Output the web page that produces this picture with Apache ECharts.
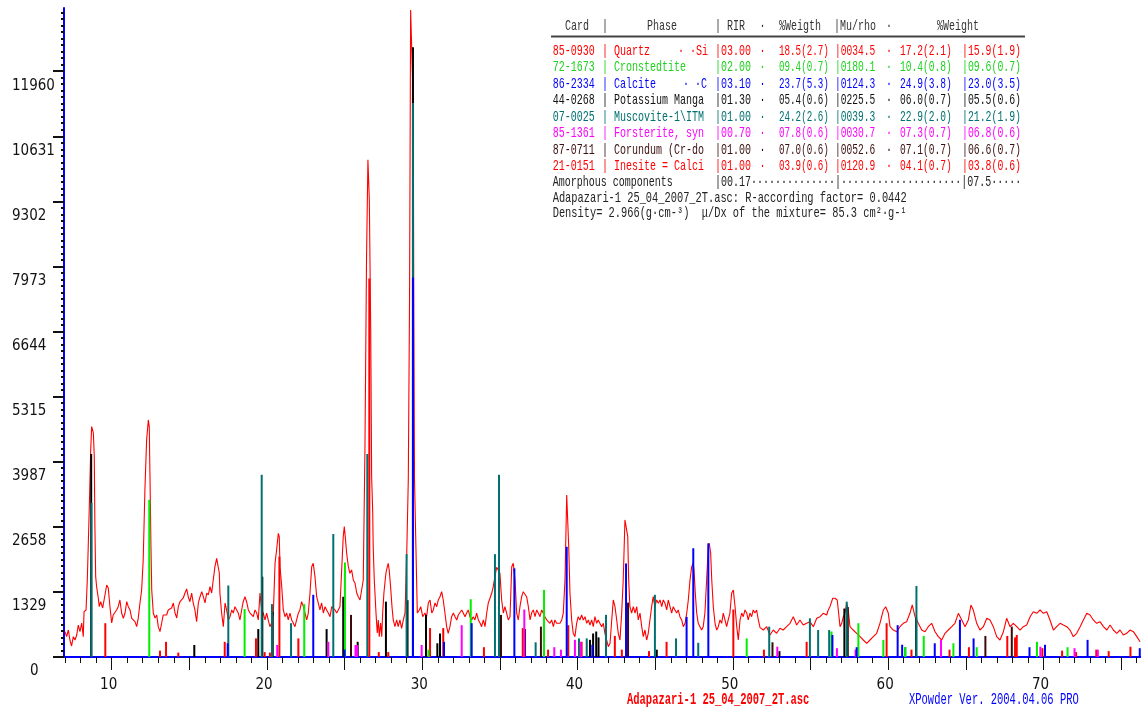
<!DOCTYPE html>
<html>
<head>
<meta charset="utf-8">
<script src="https://cdn.jsdelivr.net/npm/echarts@6/dist/echarts.min.js"></script>
<style>
html,body{margin:0;padding:0;background:#ffffff;}
#chart{width:1141px;height:711px;}
</style>
</head>
<body>
<div id="chart"></div>
<script>
// ---------- observed pattern (2-theta in degrees, counts) ----------
const twoTheta = [6.99,7.10,7.21,7.31,7.42,7.53,7.64,7.75,7.85,7.96,8.07,8.17,8.22,8.35,8.43,8.49,8.56,8.65,8.71,8.82,8.88,8.92,8.97,9.03,9.14,9.20,9.29,9.42,9.50,9.59,9.68,9.78,9.89,10.00,10.10,10.21,10.32,10.42,10.53,10.64,10.75,10.86,10.97,11.07,11.18,11.29,11.39,11.50,11.61,11.71,11.82,11.93,12.03,12.14,12.25,12.36,12.42,12.47,12.53,12.58,12.68,12.79,12.90,13.00,13.11,13.22,13.32,13.43,13.54,13.64,13.75,13.86,13.97,14.08,14.19,14.29,14.40,14.51,14.61,14.72,14.83,14.93,15.04,15.15,15.25,15.36,15.47,15.58,15.69,15.80,15.90,16.01,16.12,16.22,16.33,16.44,16.54,16.65,16.76,16.93,16.97,17.08,17.19,17.30,17.40,17.51,17.62,17.73,17.83,17.94,18.05,18.15,18.26,18.37,18.47,18.58,18.69,18.80,18.91,19.02,19.12,19.23,19.34,19.44,19.55,19.66,19.76,19.87,19.98,20.08,20.19,20.30,20.41,20.52,20.62,20.73,20.79,20.84,20.95,21.05,21.16,21.27,21.37,21.48,21.59,21.69,21.80,21.91,22.02,22.12,22.23,22.34,22.45,22.56,22.66,22.77,22.88,22.98,23.09,23.20,23.30,23.41,23.52,23.63,23.74,23.84,23.95,24.06,24.17,24.27,24.38,24.49,24.59,24.70,24.81,24.91,24.98,25.04,25.13,25.24,25.34,25.45,25.56,25.67,25.78,25.88,25.99,26.10,26.20,26.31,26.41,26.50,26.59,26.68,26.74,26.81,26.84,26.91,27.02,27.10,27.17,27.23,27.32,27.39,27.45,27.53,27.66,27.75,27.81,27.87,27.96,28.05,28.13,28.24,28.35,28.45,28.56,28.67,28.78,28.89,29.00,29.10,29.18,29.25,29.36,29.42,29.45,29.50,29.59,29.68,29.81,29.90,30.03,30.17,30.28,30.39,30.50,30.61,30.71,30.82,30.93,31.03,31.14,31.25,31.35,31.46,31.57,31.67,31.78,31.89,32.00,32.11,32.22,32.32,32.43,32.54,32.64,32.75,32.86,32.96,33.07,33.18,33.28,33.39,33.50,33.61,33.72,33.82,33.93,34.04,34.15,34.25,34.36,34.47,34.57,34.68,34.79,34.89,35.00,35.11,35.22,35.32,35.43,35.54,35.65,35.76,35.86,35.97,36.08,36.18,36.29,36.40,36.50,36.61,36.72,36.83,36.94,37.04,37.15,37.26,37.37,37.47,37.58,37.69,37.79,37.90,38.01,38.11,38.22,38.33,38.44,38.54,38.65,38.76,38.87,38.98,39.08,39.19,39.30,39.36,39.43,39.51,39.62,39.72,39.83,39.94,40.04,40.15,40.26,40.37,40.48,40.59,40.69,40.80,40.91,41.01,41.12,41.23,41.33,41.44,41.55,41.66,41.76,41.87,41.98,42.09,42.20,42.30,42.41,42.52,42.62,42.73,42.84,42.94,43.05,43.16,43.23,43.29,43.37,43.48,43.59,43.70,43.81,43.91,44.02,44.13,44.23,44.34,44.45,44.55,44.66,44.77,44.87,44.98,45.09,45.20,45.31,45.42,45.52,45.63,45.74,45.84,45.95,46.06,46.16,46.27,46.38,46.48,46.59,46.70,46.81,46.92,47.03,47.13,47.24,47.35,47.45,47.51,47.58,47.67,47.77,47.88,47.99,48.09,48.20,48.31,48.42,48.48,48.57,48.64,48.74,48.85,48.96,49.06,49.17,49.28,49.38,49.49,49.60,49.70,49.81,49.92,50.03,50.14,50.25,50.35,50.46,50.57,50.67,50.78,50.89,50.99,51.10,51.21,51.31,51.42,51.53,51.64,51.75,51.96,52.18,52.39,52.60,52.82,53.03,53.24,53.46,53.68,53.89,54.11,54.32,54.53,54.75,54.96,55.18,55.40,55.61,55.82,56.04,56.14,56.25,56.43,56.57,56.72,56.81,56.90,57.01,57.11,57.22,57.33,57.43,57.54,57.75,57.97,58.19,58.40,58.62,58.83,59.04,59.26,59.47,59.69,59.84,60.01,60.12,60.33,60.55,60.76,60.97,61.19,61.40,61.55,61.73,61.94,62.16,62.37,62.58,62.80,63.02,63.23,63.45,63.66,63.87,64.09,64.30,64.52,64.74,64.95,65.16,65.33,65.48,65.70,65.91,66.13,66.35,66.56,66.77,66.99,67.20,67.42,67.63,67.85,68.06,68.28,68.49,68.70,68.92,69.14,69.35,69.57,69.78,69.99,70.21,70.42,70.64,70.85,71.07,71.28,71.50,71.71,71.92,72.14,72.36,72.57,72.79,73.00,73.21,73.43,73.64,73.86,74.08,74.29,74.50,74.72,74.93,75.14,75.36,75.58,75.79,76.01,76.22];
const counts = [517,415,551,347,225,415,347,449,653,517,694,415,925,960,1572,2252,3069,4227,4703,4574,4090,2661,1640,1436,1199,1027,1129,1001,1027,1307,1470,1409,1027,694,858,823,960,1027,1164,898,790,898,1129,1027,960,790,756,721,619,790,1097,1368,1981,3410,4431,4840,4697,3614,2252,1368,898,796,858,619,517,694,858,898,858,960,925,1001,1103,898,796,1027,1129,1103,1205,1307,1389,1231,1129,1307,1103,960,721,1103,1231,1333,1231,1103,1307,1266,1436,1307,1572,1844,2015,1715,1307,898,619,1103,960,756,823,960,898,1027,960,898,756,960,1129,1231,1129,960,898,858,823,960,898,756,1307,960,898,756,898,756,619,694,898,1913,2185,2526,2457,1844,1436,960,823,898,756,898,756,694,619,756,898,960,1129,1027,898,756,898,1307,1844,1913,1640,1231,1103,960,1103,898,1027,960,898,823,1027,1027,960,898,960,1027,1777,2457,2661,2457,2118,1844,1709,1777,1572,1505,1307,1231,1164,1199,1572,4288,8107,10150,9332,6677,3682,2940,2252,1572,898,490,756,415,694,415,898,1307,1715,1844,1913,1777,1436,1027,756,619,756,619,756,586,756,898,2118,3614,7290,13210,13210,11310,7637,3614,2252,898,960,1027,823,898,823,1103,1164,898,960,1103,1027,1164,1231,1333,1164,898,619,484,619,823,898,823,756,858,898,960,898,823,898,960,823,756,823,756,898,756,694,619,756,619,898,1103,1199,1301,1436,1640,1832,1811,1709,1164,898,1027,898,756,823,1844,1913,1572,898,756,1027,1231,1333,1368,1231,1027,756,898,960,823,960,898,823,960,960,823,756,790,688,756,619,756,688,653,688,756,898,1572,3308,3273,2252,1301,756,484,415,688,823,756,858,756,823,688,756,653,756,619,823,688,756,721,619,688,484,347,210,280,756,1164,1027,756,484,347,898,1572,2798,2798,2457,1572,1027,898,1027,898,1027,756,898,619,415,551,347,484,756,1027,1231,1027,1164,1097,1164,1027,1164,1097,960,1164,1027,898,1027,960,898,960,823,756,619,688,898,1164,1572,1844,1913,1709,1301,898,688,619,551,619,898,1572,2252,2322,2118,1572,1027,688,551,619,756,688,898,756,619,756,898,1301,1368,1027,619,347,756,898,823,960,898,756,898,823,960,898,960,756,600,551,619,449,551,484,586,551,619,688,823,653,756,653,688,721,619,790,823,892,858,960,1027,1199,1199,1164,892,619,688,823,892,1097,960,619,551,484,415,347,280,347,415,484,688,960,1027,892,619,551,517,619,688,721,892,1062,823,688,551,517,619,688,517,415,347,484,551,619,688,892,756,619,756,1062,960,688,551,619,790,756,619,415,347,517,790,619,688,619,551,619,653,823,925,892,960,892,925,756,551,619,688,653,619,551,415,484,619,756,892,858,756,688,721,619,551,653,551,484,551,449,484,551,517,415,312];

// ---------- reference sticks of each phase (2-theta, height) ----------
const quartzPos = [20.80,26.59,36.47,39.40,40.26,42.40,45.73,50.03,54.75,59.90,63.95,65.20,67.67,68.17,68.28,73.40,75.60];
const quartzInt = [2050,7730,590,650,310,430,310,970,310,690,150,200,430,400,450,150,210];
const cronPos = [12.42,18.56,22.40,25.02,30.40,33.12,37.84,50.89,56.35,58.08,59.69,61.10,62.29,64.20,65.70,69.58,71.55];
const cronInt = [3210,980,1080,1930,150,1180,1370,380,520,690,350,200,430,280,200,310,200];
const calcitePos = [17.47,22.98,25.00,29.40,31.40,33.18,35.93,39.30,40.95,43.12,47.02,47.45,48.42,56.41,57.97,60.61,60.90,63.00,64.62,65.50,69.10,70.10,72.84,76.20];
const calciteInt = [280,1270,150,7750,310,690,1810,2250,250,1910,820,2220,2320,450,200,650,250,280,760,380,200,250,350,180];
const potassPos = [8.68,15.32,19.44,19.70,20.37,23.84,24.91,25.84,27.66,29.05,29.40,30.24,30.97,31.14,36.61,40.80,41.00,41.20,41.35,45.10,53.00,57.18,61.80];
const potassInt = [4145,245,570,1640,925,570,1230,310,1130,1160,12450,860,280,480,570,350,480,520,400,150,120,990,800];
const muscPos = [8.70,17.51,19.66,20.32,21.55,24.27,26.46,28.99,29.40,34.68,34.94,37.30,40.09,40.59,41.83,44.98,46.34,47.77,52.34,54.96,55.49,56.20,57.33,61.10,61.82];
const muscInt = [3150,1460,3720,1080,690,2510,4145,2100,11310,2100,3720,300,380,380,860,1270,380,290,620,790,550,550,1130,200,1450];
const forstPos = [20.66,23.95,25.70,25.80,29.96,32.54,36.57,38.50,38.93,39.83,40.20,52.86,56.70,57.90,63.40,69.80,72.00,73.50];
const forstInt = [245,310,245,245,245,650,970,200,150,350,310,210,180,150,350,210,180,150];
const corundPos = [25.41,35.07,37.64,43.25,52.55,57.40,66.26,67.96];
const corundInt = [860,860,620,1110,300,1020,430,620];
const inesitePos = [9.59,13.11,13.50,14.29,17.28,19.29,19.85,20.19,22.02,27.20,27.81,30.50,31.35,33.97,38.10,42.85,44.60,52.00,61.50,69.93,71.20,72.10,74.20];
const inesiteInt = [690,130,310,90,310,380,100,90,380,100,100,590,590,200,150,150,120,150,150,180,130,100,120];

// ---------- axis ticks and labels ----------
const yTickLabels = ['0','1329','2658','3987','5315','6644','7973','9302','10631','11960'];
const xTickLabels = ['10','20','30','40','50','60','70'];
const xMajorTicks = [10,15,20,25,30,35,40,45,50,55,60,65,70,75];

// ---------- phase table ----------
const cards = ['85-0930','72-1673','86-2334','44-0268','07-0025','85-1361','87-0711','21-0151'];
const phases = ['Quartz','Cronstedtite','Calcite','Potassium Manga','Muscovite-1\\ITM','Forsterite, syn','Corundum (Cr-do','Inesite = Calci'];
const phaseTags = ['· ·Si','','· ·C','','','','',''];
const rirs = ['03.00','02.00','03.10','01.30','01.00','00.70','01.00','01.00'];
const weigth = ['18.5(2.7)','09.4(0.7)','23.7(5.3)','05.4(0.6)','24.2(2.6)','07.8(0.6)','07.0(0.6)','03.9(0.6)'];
const murho = ['0034.5','0180.1','0124.3','0225.5','0039.3','0030.7','0052.6','0120.9'];
const weight1 = ['17.2(2.1)','10.4(0.8)','24.9(3.8)','06.0(0.7)','22.9(2.0)','07.3(0.7)','07.1(0.7)','04.1(0.7)'];
const weight2 = ['15.9(1.9)','09.6(0.7)','23.0(3.5)','05.5(0.6)','21.2(1.9)','06.8(0.6)','06.6(0.7)','03.8(0.6)'];
const textColors = ['#ff0000','#1ed21e','#0000ff','#111111','#007070','#ff00ff','#3c1010','#ff0000'];

const XMIN = 6.93, XMAX = 76.28, YMAX = 13250;
const labelFont = "'Liberation Sans Narrow','DejaVu Sans Condensed','Arial Narrow',sans-serif";
const monoFont = "'Liberation Mono','DejaVu Sans Mono',monospace";

const chart = echarts.init(document.getElementById('chart'), null, {renderer:'canvas'});

function stickSeries(name, pos, ints, color) {
  return {
    type: 'custom', name: name,
    data: pos.map((p, i) => [p, ints[i]]),
    encode: {x: 0, y: 1},
    renderItem: function (params, api) {
      const top = api.coord([api.value(0), api.value(1)]);
      const base = api.coord([api.value(0), 0]);
      return {type: 'line', shape: {x1: top[0], y1: top[1], x2: base[0], y2: base[1]},
              style: {stroke: color, lineWidth: 2}};
    },
    clip: true, animation: false, z: 3, silent: true
  };
}

const xMinor = [];
for (let v = 7; v <= 76; v++) if (v % 5 !== 0) xMinor.push(v);
const yStep = 1329;
const yMinor = [];
for (let k = 1; k * yStep / 10 < YMAX; k++) if (k % 10 !== 0) yMinor.push(k * yStep / 10);
const yMajor = yTickLabels.map(Number);

// table graphics
const g = [];
function txt(x, y, s, color, opts) {
  opts = opts || {};
  g.push({type: 'text', x: x, y: y, scaleX: opts.sx || 0.667, silent: true,
    style: {text: s, fill: color, font: (opts.bold ? 'bold ' : '') + (opts.size || 15) + 'px ' + monoFont,
            verticalAlign: 'middle', align: 'left'}});
}
const headY = 26;
const hc = '#333333';
txt(565, headY, 'Card', hc); txt(602, headY, '|', hc); txt(647, headY, 'Phase', hc);
txt(715, headY, '| RIR', hc); txt(759.5, headY, '·', hc); txt(779, headY, '%Weigth', hc);
txt(834, headY, '|Mu/rho', hc); txt(886, headY, '·', hc); txt(937, headY, '%Weight', hc);
g.push({type: 'line', silent: true, shape: {x1: 551, y1: 36.5, x2: 1025, y2: 36.5}, style: {stroke: '#444444', lineWidth: 2}});
for (let i = 0; i < cards.length; i++) {
  const y = 50.7 + 16.5 * i, c = textColors[i];
  txt(552.7, y, cards[i], c);
  txt(602, y, '| ' + phases[i], c);
  if (phaseTags[i]) txt(i === 2 ? 683 : 678, y, phaseTags[i], c);
  txt(715, y, '|' + rirs[i], c);
  txt(759.5, y, '·', c);
  txt(779, y, weigth[i], c, {sx: 0.615});
  txt(835, y, '|' + murho[i], c, {sx: 0.64});
  txt(886, y, '·', c);
  txt(900, y, weight1[i], c, {sx: 0.64});
  txt(962, y, '|' + weight2[i], c, {sx: 0.655});
}
const dc = '#222222';
txt(552.7, 182, 'Amorphous components', dc);
txt(715, 182, '|00.17' + '·'.repeat(14) + '|' + '·'.repeat(20) + '|07.5' + '·'.repeat(5), dc);
txt(552.7, 198.3, 'Adapazari-1 25_04_2007_2T.asc: R-according factor= 0.0442', dc, {sx: 0.69});
txt(552.7, 213.5, 'Density= 2.966(g·cm-³)  μ/Dx of the mixture= 85.3 cm²·g-¹', dc, {sx: 0.69});
// bottom captions
txt(627, 700, 'Adapazari-1 25_04_2007_2T.asc', '#ff0000', {bold: true, size: 16, sx: 0.655});
txt(909, 700, 'XPowder Ver. 2004.04.06 PRO', '#0000ff', {size: 16, sx: 0.655});

const option = {
  backgroundColor: '#ffffff',
  animation: false,
  grid: {left: 64, right: 0, top: 8, bottom: 54, containLabel: false},
  xAxis: [
    {type: 'value', min: XMIN, max: XMAX, position: 'bottom',
     axisLine: {show: true, onZero: false, lineStyle: {color: '#0000ff', width: 2}},
     axisTick: {show: true, customValues: xMajorTicks, length: 13, lineStyle: {color: '#111111', width: 1}},
     axisLabel: {show: true, customValues: xTickLabels.map(Number), margin: 21, color: '#111111',
                 fontSize: 15, fontFamily: labelFont, padding: [0, 6, 0, 0],
                 formatter: v => xTickLabels[xTickLabels.map(Number).indexOf(v)]},
     splitLine: {show: false}},
    {type: 'value', min: XMIN, max: XMAX, position: 'bottom', offset: 7,
     axisLine: {show: false}, axisLabel: {show: false}, splitLine: {show: false},
     axisTick: {show: true, customValues: xMinor, length: 6, lineStyle: {color: '#111111', width: 1}}},
    {type: 'value', min: XMIN, max: XMAX, position: 'top',
     axisLine: {show: true, lineStyle: {color: '#0000ff', width: 2}},
     axisTick: {show: false}, axisLabel: {show: false}, splitLine: {show: false}}
  ],
  yAxis: [
    {type: 'value', min: 0, max: YMAX, position: 'left',
     axisLine: {show: true, onZero: false, lineStyle: {color: '#0000ff', width: 2}},
     axisTick: {show: true, customValues: yMajor, length: 11, lineStyle: {color: '#111111', width: 2}},
     axisLabel: {show: true, customValues: yMajor, margin: 52, align: 'left', verticalAlign: 'top',
                 padding: [7, 0, 0, 0], color: '#111111', fontSize: 15, fontFamily: labelFont,
                 formatter: v => { const s = yTickLabels[yMajor.indexOf(v)]; return v === 0 ? '{z|' + s + '}' : s; },
                 rich: {z: {padding: [0, 0, 0, 18], fontSize: 15, fontFamily: labelFont, color: '#111111'}}},
     splitLine: {show: false}},
    {type: 'value', min: 0, max: YMAX, position: 'left',
     axisLine: {show: false}, axisLabel: {show: false}, splitLine: {show: false},
     axisTick: {show: true, customValues: yMinor, length: 3, lineStyle: {color: '#111111', width: 2}}}
  ],
  series: [
    {type: 'line', name: 'Observed', data: twoTheta.map((t, i) => [t, counts[i]]),
     showSymbol: false, symbol: 'none', lineStyle: {color: '#ff0000', width: 1.1}, itemStyle: {color: '#ff0000'},
     clip: true, z: 2, silent: true, animation: false},
    stickSeries('Potassium Manga', potassPos, potassInt, '#000000'),
    stickSeries('Corundum', corundPos, corundInt, '#3c0a0a'),
    stickSeries('Muscovite', muscPos, muscInt, '#007070'),
    stickSeries('Quartz', quartzPos, quartzInt, '#ff0000'),
    stickSeries('Inesite', inesitePos, inesiteInt, '#ff0000'),
    stickSeries('Cronstedtite', cronPos, cronInt, '#00ee00'),
    stickSeries('Forsterite', forstPos, forstInt, '#ff00ff'),
    stickSeries('Calcite', calcitePos, calciteInt, '#0000ff')
  ],
  graphic: g
};
chart.setOption(option);
</script>
</body>
</html>
